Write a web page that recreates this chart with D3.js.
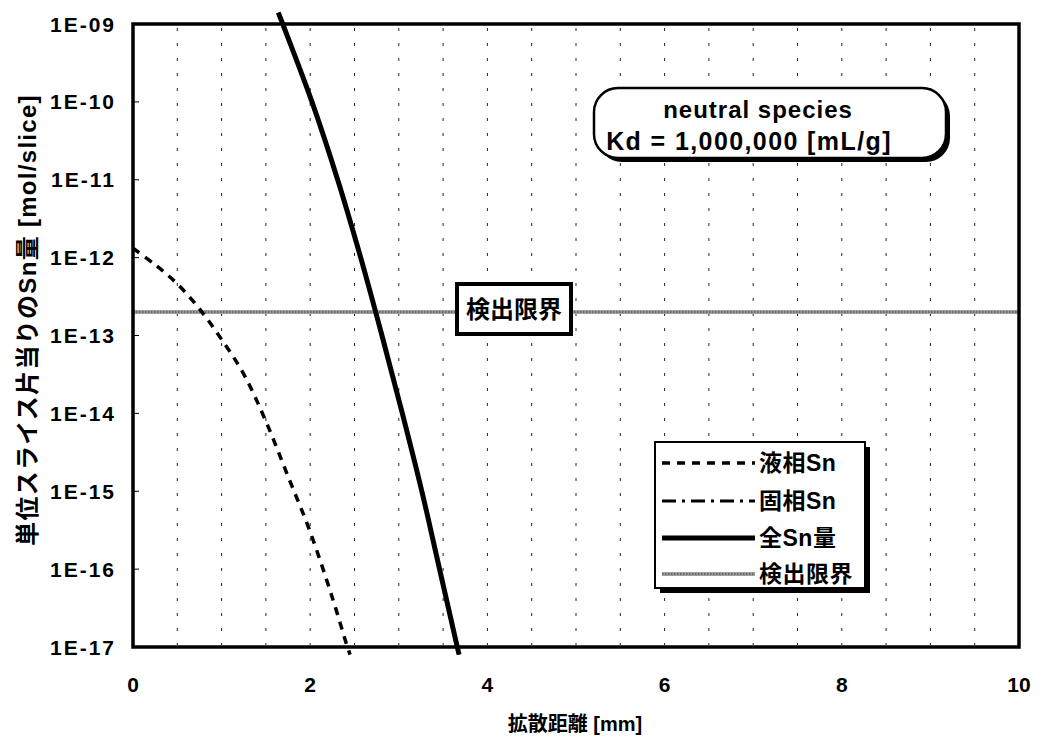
<!DOCTYPE html>
<html>
<head>
<meta charset="utf-8">
<script src="https://cdn.jsdelivr.net/npm/d3@7"></script>
<style>
  body { margin: 0; background: #fff; }
  text { font-family: "Liberation Sans", Arial, "Noto Sans CJK JP", sans-serif; font-weight: bold; fill: #000; }
</style>
</head>
<body>
<div id="wrap"></div>
<script>
// data
var xTicks = [0, 2, 4, 6, 8, 10];
var yTicks = [1e-9, 1e-10, 1e-11, 1e-12, 1e-13, 1e-14, 1e-15, 1e-16, 1e-17];
var yTickLabels = ["1E-09", "1E-10", "1E-11", "1E-12", "1E-13", "1E-14", "1E-15", "1E-16", "1E-17"];
var gridX = [0.5, 1, 1.5, 2, 2.5, 3, 3.5, 4, 4.5, 5, 5.5, 6, 6.5, 7, 7.5, 8, 8.5, 9, 9.5];

var liquidX  = [0, 0.25, 0.5, 0.75, 1.0, 1.25, 1.5, 1.75, 2.0, 2.25, 2.42, 2.45];
var liquidSn = [1.32e-12, 8.1e-13, 4.6e-13, 2.2e-13, 8.9e-14, 3.2e-14, 7.9e-15, 1.55e-15, 3.0e-16, 4.3e-17, 1.0e-17, 8e-18];

var solidX  = [1.64, 1.69, 2.02, 2.31, 2.57, 2.81, 3.04, 3.26, 3.46, 3.66, 3.68];
var solidSn = [1.4e-9, 1e-9, 1e-10, 1e-11, 1e-12, 1e-13, 1e-14, 1e-15, 1e-16, 1e-17, 8e-18];

var totalX  = [1.64, 1.69, 2.02, 2.31, 2.57, 2.81, 3.04, 3.26, 3.46, 3.66, 3.68];
var totalSn = [1.4e-9, 1e-9, 1e-10, 1e-11, 1e-12, 1e-13, 1e-14, 1e-15, 1e-16, 1e-17, 8e-18];

var detectLimit = 2e-13;

var legendNames = ["液相Sn", "固相Sn", "全Sn量", "検出限界"];

var width = 1044, height = 742;
var plot = {left: 133, top: 24, right: 1019, bottom: 647};

var svg = d3.select('#wrap').append('svg')
    .attr('width', width)
    .attr('height', height);

var x = d3.scaleLinear().domain([0, 10]).range([plot.left, plot.right]);
var y = d3.scaleLog().domain([1e-17, 1e-9]).range([plot.bottom, plot.top]);

//grid
svg.append('g').selectAll('line')
  .data(gridX)
  .enter().append('line')
    .attr('x1', function(d) { return x(d); })
    .attr('x2', function(d) { return x(d); })
    .attr('y1', plot.top + 4)
    .attr('y2', plot.bottom - 2)
    .style('stroke', '#222')
    .style('stroke-width', 1)
    .style('stroke-dasharray', '3,12');

//small inward ticks on the y axis
svg.append('g').selectAll('line')
  .data(yTicks)
  .enter().append('line')
    .attr('x1', plot.left)
    .attr('x2', plot.left + 6)
    .attr('y1', function(d) { return y(d); })
    .attr('y2', function(d) { return y(d); })
    .style('stroke', '#000')
    .style('stroke-width', 1);

//tick labels
svg.append('g').selectAll('text')
  .data(yTicks)
  .enter().append('text')
    .attr('x', 116)
    .attr('y', function(d) { return y(d); })
    .attr('dy', '0.36em')
    .attr('text-anchor', 'end')
    .style('font-size', '21px')
    .style('letter-spacing', '2px')
    .text(function(d, i) { return yTickLabels[i]; });

svg.append('g').selectAll('text')
  .data(xTicks)
  .enter().append('text')
    .attr('x', function(d) { return x(d); })
    .attr('y', 692)
    .attr('text-anchor', 'middle')
    .style('font-size', '21px')
    .text(function(d) { return d; });

//axis titles
svg.append('text')
  .attr('x', 575)
  .attr('y', 731)
  .attr('text-anchor', 'middle')
  .style('font-size', '20px')
  .text('拡散距離 [mm]');

svg.append('text')
  .attr('transform', 'translate(36,320) rotate(-90)')
  .attr('text-anchor', 'middle')
  .style('font-size', '24px')
  .style('letter-spacing', '1.3px')
  .text('単位スライス片当りのSn量 [mol/slice]');

//detection limit line
function limitLine(sel) {
  sel.append('line')
    .style('stroke', '#a0a0a0').style('stroke-width', 4);
  sel.append('line')
    .style('stroke', '#555').style('stroke-width', 1.5).style('stroke-dasharray', '1.5,1.5');
}
var lim = svg.append('g');
limitLine(lim);
lim.selectAll('line')
  .attr('x1', x(0)).attr('x2', x(10))
  .attr('y1', y(detectLimit)).attr('y2', y(detectLimit));

//series
var line = d3.line()
  .x(function(d) { return x(d[0]); })
  .y(function(d) { return y(d[1]); })
  .curve(d3.curveCatmullRom.alpha(0.5));

function pairs(xs, ys) { return xs.map(function(v, i) { return [v, ys[i]]; }); }

svg.append('path')
  .attr('d', line(pairs(solidX, solidSn)))
  .style('fill', 'none').style('stroke', '#000').style('stroke-width', 3)
  .style('stroke-dasharray', '14,6,3,6');

svg.append('path')
  .attr('d', line(pairs(totalX, totalSn)))
  .style('fill', 'none').style('stroke', '#000').style('stroke-width', 5);

svg.append('path')
  .attr('d', line(pairs(liquidX, liquidSn)))
  .style('fill', 'none').style('stroke', '#000').style('stroke-width', 3.5)
  .style('stroke-dasharray', '8,7');

//plot frame
svg.append('rect')
  .attr('x', plot.left).attr('y', plot.top)
  .attr('width', plot.right - plot.left).attr('height', plot.bottom - plot.top)
  .style('fill', 'none').style('stroke', '#000').style('stroke-width', 3.5);

//detection limit label
var limLabel = svg.append('g');
limLabel.append('rect')
  .attr('x', 457).attr('y', 284).attr('width', 114).attr('height', 50)
  .style('fill', '#fff').style('stroke', '#000').style('stroke-width', 4);
limLabel.append('text')
  .attr('x', 514).attr('y', 309).attr('dy', '0.36em')
  .attr('text-anchor', 'middle')
  .style('font-size', '24px')
  .text('検出限界');

//annotation box
var note = svg.append('g');
note.append('rect')
  .attr('x', 598).attr('y', 92).attr('width', 352).attr('height', 70).attr('rx', 24)
  .style('fill', '#000');
note.append('rect')
  .attr('x', 594).attr('y', 88).attr('width', 352).attr('height', 70).attr('rx', 24)
  .style('fill', '#fff').style('stroke', '#000').style('stroke-width', 2.5);
note.append('text')
  .attr('x', 758).attr('y', 118).attr('text-anchor', 'middle')
  .style('font-size', '24px')
  .style('letter-spacing', '1px')
  .text('neutral species');
note.append('text')
  .attr('x', 749).attr('y', 150).attr('text-anchor', 'middle')
  .style('font-size', '25px')
  .style('letter-spacing', '1.4px')
  .text('Kd = 1,000,000 [mL/g]');

//legend
var leg = svg.append('g');
leg.append('rect')
  .attr('x', 660).attr('y', 447).attr('width', 210).attr('height', 146)
  .style('fill', '#000');
leg.append('rect')
  .attr('x', 655).attr('y', 442).attr('width', 210).attr('height', 146)
  .style('fill', '#fff').style('stroke', '#000').style('stroke-width', 2);

var legY = [463, 501, 538, 574];
var legStyles = [
  {w: 3.5, dash: '8,7'},
  {w: 3, dash: '14,6,3,6'},
  {w: 5, dash: null}
];
legStyles.forEach(function(s, i) {
  leg.append('line')
    .attr('x1', 662).attr('x2', 755)
    .attr('y1', legY[i]).attr('y2', legY[i])
    .style('stroke', '#000').style('stroke-width', s.w)
    .style('stroke-dasharray', s.dash);
});
var legLim = leg.append('g');
limitLine(legLim);
legLim.selectAll('line')
  .attr('x1', 662).attr('x2', 755)
  .attr('y1', legY[3]).attr('y2', legY[3]);

leg.selectAll('text')
  .data(legendNames)
  .enter().append('text')
    .attr('x', 759)
    .attr('y', function(d, i) { return legY[i]; })
    .attr('dy', '0.36em')
    .style('font-size', '23px')
    .style('letter-spacing', '0.5px')
    .text(function(d) { return d; });
</script>
</body>
</html>
